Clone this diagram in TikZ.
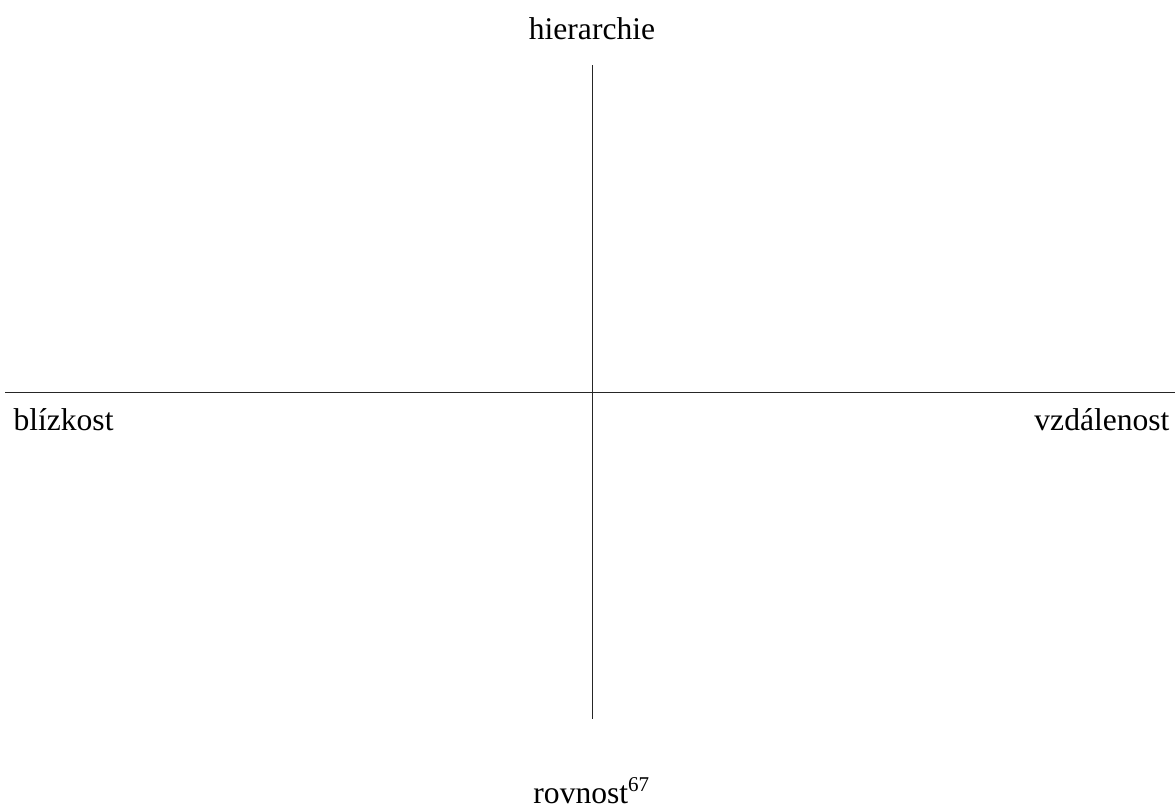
\documentclass[tikz,border=0pt]{standalone}
\usepackage{fontspec}
\setmainfont{Liberation Serif}
\usepackage{tikz}
\usetikzlibrary{positioning}

\begin{document}
\begin{tikzpicture}[x=0.38pt, y=-0.38pt]
    % Define styles
    \tikzstyle{axislabel} = [inner sep=0pt, anchor=base, font=\fontsize{12}{14}\selectfont]
    \tikzstyle{axis} = [line width=0.38pt, draw=black!85]

    \useasboundingbox (0,0) rectangle (1175,807);

    % Axis ends
    \coordinate (ytop) at (592,65);
    \coordinate (ybottom) at (592,719);
    \coordinate (xleft) at (5,392);
    \coordinate (xright) at (1175,392);

    % Nodes
    \node (hier) [axislabel] at (592,39) {hierarchie};
    \node (bliz) [axislabel, anchor=base west] at (13,430) {blízkost};
    \node (vzd) [axislabel, anchor=base east] at (1170,430) {vzdálenost};
    \node (rov) [axislabel] at (592,803) {rovnost\textsuperscript{67}};

    % Axes
    \draw [axis] (ytop) -- (ybottom);
    \draw [axis] (xleft) -- (xright);
\end{tikzpicture}
\end{document}
